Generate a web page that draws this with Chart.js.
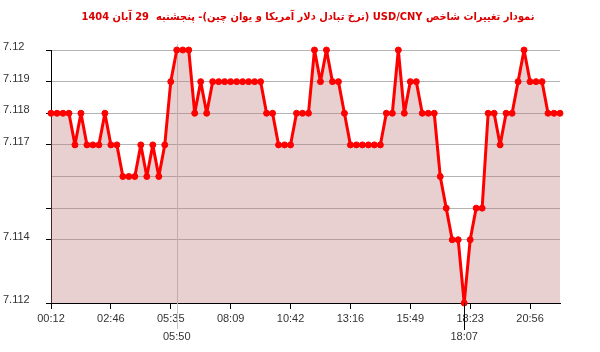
<!DOCTYPE html>
<html>
<head>
<meta charset="utf-8">
<script src="https://cdn.jsdelivr.net/npm/chart.js@4"></script>
<style>
html,body{margin:0;padding:0;background:#fff;}
#wrap{width:600px;height:352px;position:relative;}
</style>
</head>
<body>
<div id="wrap"><canvas id="c" width="600" height="352"></canvas></div>
<script>
const titleText = "نمودار تغییرات شاخص USD/CNY (نرخ تبادل دلار آمریکا و یوان چین)- پنجشنبه  29 آبان 1404";
const xTickLabels = ["00:12","02:46","05:35","08:09","10:42","13:16","15:49","18:23","20:56"];
const extremeLabels = ["05:50","18:07"]; // time of max, time of min
const yTickLabels = [7.112, 7.114, 7.117, 7.118, 7.119, 7.12];
const values = [
  7.118,7.118,7.118,7.118,7.117,7.118,7.117,7.117,7.117,7.118,
  7.117,7.117,7.116,7.116,7.116,7.117,7.116,7.117,7.116,7.117,
  7.119,7.12,7.12,7.12,7.118,7.119,7.118,7.119,7.119,7.119,
  7.119,7.119,7.119,7.119,7.119,7.119,7.118,7.118,7.117,7.117,
  7.117,7.118,7.118,7.118,7.12,7.119,7.12,7.119,7.119,7.118,
  7.117,7.117,7.117,7.117,7.117,7.117,7.118,7.118,7.12,7.118,
  7.119,7.119,7.118,7.118,7.118,7.116,7.115,7.114,7.114,7.112,
  7.114,7.115,7.115,7.118,7.118,7.117,7.118,7.118,7.119,7.12,
  7.119,7.119,7.119,7.118,7.118,7.118
];
const labels = values.map((_, i) => i);
const r3 = v => Math.round(v * 1000);

const extremes = {
  id: 'extremes',
  beforeDatasetsDraw(chart) {
    const {ctx, chartArea, scales} = chart;
    const maxIdx = values.indexOf(Math.max(...values));
    const x = Math.round(scales.x.getPixelForValue(maxIdx)) + 0.5;
    ctx.save();
    ctx.strokeStyle = '#c8c8c8';
    ctx.lineWidth = 1;
    ctx.beginPath();
    ctx.moveTo(x, chartArea.top - 6);
    ctx.lineTo(x, chartArea.bottom + 26);
    ctx.stroke();
    ctx.restore();
  },
  afterDraw(chart) {
    const {ctx, chartArea, scales} = chart;
    const maxIdx = values.indexOf(Math.max(...values));
    const minIdx = values.indexOf(Math.min(...values));
    const xMin = Math.round(scales.x.getPixelForValue(minIdx)) + 0.5;
    ctx.save();
    ctx.strokeStyle = '#000';
    ctx.lineWidth = 1;
    ctx.beginPath();
    ctx.moveTo(xMin, chartArea.bottom);
    ctx.lineTo(xMin, chartArea.bottom + 27);
    ctx.stroke();
    ctx.fillStyle = '#333';
    ctx.font = '11px "Liberation Sans", Arial, sans-serif';
    ctx.textAlign = 'center';
    ctx.textBaseline = 'middle';
    ctx.fillText(extremeLabels[0], scales.x.getPixelForValue(maxIdx), chartArea.bottom + 34);
    ctx.fillText(extremeLabels[1], scales.x.getPixelForValue(minIdx), chartArea.bottom + 34);
    // title
    ctx.direction = 'rtl';
    ctx.fillStyle = '#dd0000';
    ctx.font = 'bold 11px "DejaVu Sans Condensed", "DejaVu Sans", sans-serif';
    ctx.textAlign = 'center';
    ctx.fillText(titleText, 308, 17);
    ctx.restore();
  }
};

new Chart(document.getElementById('c'), {
  type: 'line',
  data: {
    labels: labels,
    datasets: [{
      data: values,
      borderColor: '#ff0000',
      backgroundColor: 'rgba(190,120,120,0.35)',
      borderWidth: 3,
      borderJoinStyle: 'round',
      borderCapStyle: 'round',
      pointRadius: 3,
      pointBackgroundColor: '#ff0000',
      pointBorderColor: '#ff0000',
      pointBorderWidth: 1,
      fill: 'start',
      tension: 0,
      clip: false
    }]
  },
  options: {
    responsive: false,
    animation: false,
    events: [],
    layout: { padding: { top: 50, right: 40, left: 3, bottom: 26 } },
    plugins: { legend: { display: false }, tooltip: { enabled: false }, title: { display: false } },
    scales: {
      x: {
        type: 'category',
        offset: false,
        afterBuildTicks: s => { s.ticks = s.ticks.filter(t => t.value % 10 === 0); },
        afterFit: s => { s.height = 23; },
        grid: { drawOnChartArea: false, drawTicks: true, tickLength: 6, tickColor: '#000' },
        border: { display: true, color: '#000', width: 1 },
        ticks: {
          autoSkip: false,
          maxRotation: 0,
          padding: 3,
          color: '#333',
          font: { family: '"Liberation Sans", Arial, sans-serif', size: 11 },
          callback: (v) => xTickLabels[v / 10] || ''
        }
      },
      y: {
        min: 7.112,
        max: 7.12,
        afterFit: s => { s.width = 48; },
        grid: {
          drawTicks: true,
          tickLength: 5,
          color: ctx => (r3(ctx.tick.value) === 7113 || r3(ctx.tick.value) === 7112) ? 'rgba(0,0,0,0)' : '#b4b4b4',
          tickColor: ctx => (r3(ctx.tick.value) === 7113 || r3(ctx.tick.value) === 7116) ? 'rgba(0,0,0,0)' : '#000'
        },
        border: { display: true, color: '#000', width: 1 },
        ticks: {
          stepSize: 0.001,
          crossAlign: 'far',
          labelOffset: -3,
          color: '#333',
          font: { family: '"Liberation Sans", Arial, sans-serif', size: 11 },
          callback: (v) => {
            const hit = yTickLabels.find(t => r3(t) === r3(v));
            return hit !== undefined ? String(hit) : '';
          }
        }
      }
    }
  },
  plugins: [extremes]
});
</script>
</body>
</html>
